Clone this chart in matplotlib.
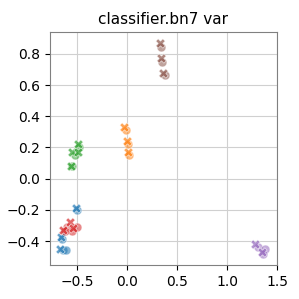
import matplotlib
matplotlib.use("Agg")
import matplotlib.pyplot as plt
import numpy as np

colors = ["C0", "C1", "C2", "C3", "C4", "C5"]

# X-marker points per group
xs_x = [
    [-0.51, -0.66, -0.67],
    [-0.03, 0.00, 0.01],
    [-0.49, -0.55, -0.49, -0.56],
    [-0.57, -0.64, -0.54],
    [1.28, 1.35],
    [0.33, 0.34, 0.36],
]
ys_x = [
    [-0.19, -0.374, -0.45],
    [0.33, 0.24, 0.17],
    [0.22, 0.17, 0.17, 0.08],
    [-0.28, -0.33, -0.317],
    [-0.42, -0.47],
    [0.87, 0.775, 0.68],
]
# circle-marker points per group
xs_o = [
    [-0.50, -0.65, -0.64, -0.61],
    [-0.01, 0.01, 0.02],
    [-0.48, -0.52, -0.55],
    [-0.60, -0.50, -0.55, -0.62],
    [1.31, 1.38, 1.36],
    [0.34, 0.35, 0.38],
]
ys_o = [
    [-0.20, -0.387, -0.457, -0.457],
    [0.315, 0.225, 0.155],
    [0.205, 0.155, 0.08],
    [-0.31, -0.31, -0.336, -0.336],
    [-0.44, -0.45, -0.48],
    [0.845, 0.75, 0.665],
]

fig = plt.figure(figsize=(2.99, 2.99), dpi=100)
ax = fig.add_axes([50 / 299, 1 - 265 / 299, 227 / 299, 233 / 299])

for i in range(len(colors)):
    ax.scatter(xs_o[i], ys_o[i], s=40, marker="o", color=colors[i],
               alpha=0.55, edgecolor="white", linewidth=0.5, zorder=3)
    ax.scatter(xs_x[i], ys_x[i], s=45, marker="X", color=colors[i],
               alpha=0.7, edgecolor="white", linewidth=0.5, zorder=3)

ax.set_xlim(-0.77, 1.5)
ax.set_ylim(-0.553, 0.94)
ax.set_xticks([-0.5, 0.0, 0.5, 1.0, 1.5])
ax.set_yticks([-0.4, -0.2, 0.0, 0.2, 0.4, 0.6, 0.8])
ax.grid(True, color="#d0d0d0", linewidth=0.8)
ax.set_axisbelow(True)
for sp in ax.spines.values():
    sp.set_color("gray")
ax.tick_params(colors="black", labelsize=10)
ax.set_title("classifier.bn7 var", fontsize=11)

fig.savefig("out.png", dpi=100)
